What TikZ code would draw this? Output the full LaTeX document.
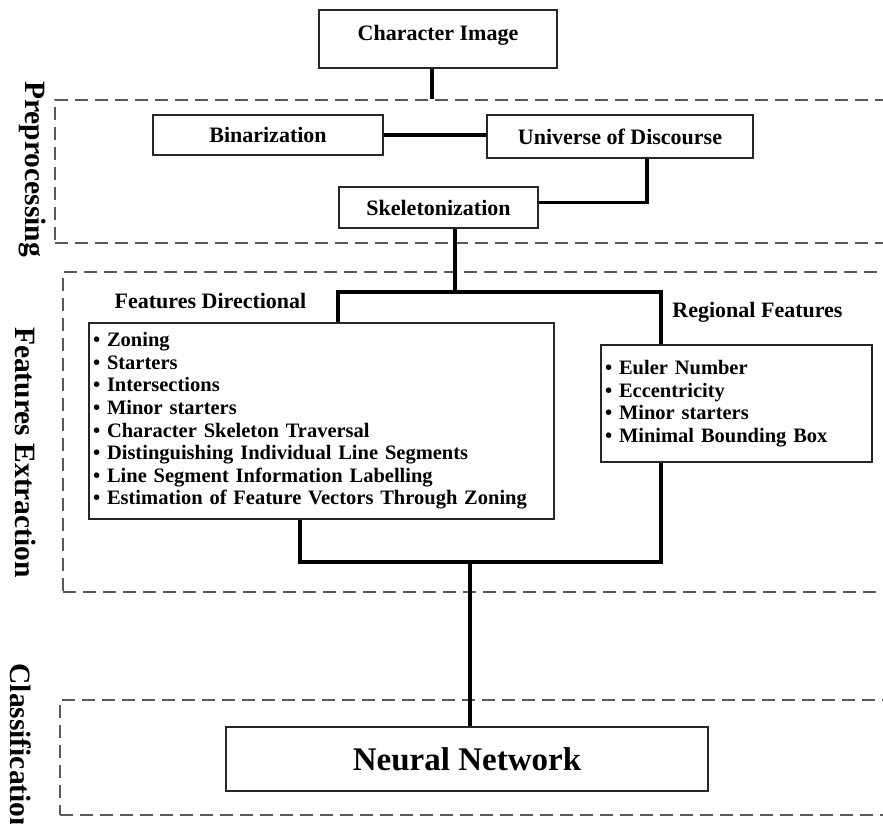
\documentclass[tikz,border=0pt]{standalone}
\usepackage{fontspec}
\setmainfont{Liberation Serif}
\usepackage{tikz}
\usetikzlibrary{positioning,calc}
\tikzset{%
  every stage/.style={
    draw=black!85,
    line width=1.3pt,
    fill=white,
    inner sep=0pt,
    font=\fontsize{22}{26}\selectfont\bfseries
  },
  stage list/.style={
    align=left,
    inner xsep=4pt,
    font=\fontsize{20.5}{22.6}\selectfont\bfseries
  },
  phase frame/.style={
    draw=black!65,
    line width=1.2pt,
    dash pattern=on 13pt off 7pt,
    inner sep=0pt
  },
  phase label/.style={
    rotate=-90,
    font=\fontsize{29.5}{34}\selectfont\bfseries
  },
  link/.style={line width=3.8pt},
}

\begin{document}
\begin{tikzpicture}[x=1pt, y=-1pt]
    \useasboundingbox (0,0) rectangle (883,823);
    \clip (0,0) rectangle (883,823);

    % dashed phase frames (open on the right)
    \node [phase frame, minimum width=845pt, minimum height=143pt] (frame-prep)  at (477.5,171.5) {};
    \node [phase frame, minimum width=837pt, minimum height=320pt] (frame-feat)  at (481.5,432) {};
    \node [phase frame, minimum width=840pt, minimum height=115pt] (frame-class) at (480,757.5) {};

    \node [phase label, anchor=base] (phase-1) at (25,169) {Preprocessing};
    \node [phase label, anchor=base] (phase-2) at (15,452.5) {Features Extraction};
    \node [phase label, anchor=base west] (phase-3) at (10,660) {Classification};

    % stages
    \node [every stage/.try, minimum width=238pt, minimum height=58pt,
           label={[anchor=north, yshift=-12pt, font=\fontsize{22}{26}\selectfont\bfseries]north:Character Image}]
           (charimg) at (438,39) {};
    \node [every stage/.try, minimum width=230pt, minimum height=40pt] (prep-bin)  at (268,135) {Binarization};
    \node [every stage/.try, minimum width=266pt, minimum height=43pt] (prep-uod)  at (620,136.5) {Universe of Discourse};
    \node [every stage/.try, minimum width=199pt, minimum height=41pt] (prep-skel) at (438.5,207.5) {Skeletonization};

    \node [every stage/.try, font=\fontsize{22}{26}\selectfont\bfseries, draw=none, fill=none] (feat-dir-title) at (210.5,301) {Features Directional};
    \node [every stage/.try, font=\fontsize{22}{26}\selectfont\bfseries, draw=none, fill=none] (feat-reg-title) at (757.5,312) {Regional Features};

    \node [every stage/.try, stage list, text width=457pt, minimum height=196pt] (feat-dir) at (321.5,421) {%
        \textbullet\ Zoning\\
        \textbullet\ Starters\\
        \textbullet\ Intersections\\
        \textbullet\ Minor starters\\
        \textbullet\ Character Skeleton Traversal\\
        \textbullet\ Distinguishing Individual Line Segments\\
        \textbullet\ Line Segment Information Labelling\\
        \textbullet\ Estimation of Feature Vectors Through Zoning};
    \node [every stage/.try, stage list, text width=263pt, minimum height=117pt] (feat-reg) at (736.5,403.5) {%
        \textbullet\ Euler Number\\
        \textbullet\ Eccentricity\\
        \textbullet\ Minor starters\\
        \textbullet\ Minimal Bounding Box};

    \node [every stage/.try, minimum width=482pt, minimum height=64pt,
           font=\fontsize{33}{38}\selectfont\bfseries] (class-nn) at (467,759) {Neural Network};

    % connectors
    \coordinate (split) at (455,292);
    \coordinate (dir-in) at (338,292);
    \coordinate (reg-in) at (661,292);
    \coordinate (dir-out) at (300,562);
    \coordinate (reg-out) at (661,562);
    \coordinate (merge) at (470,562);

    \draw [link] ([xshift=-6pt]charimg.south) -- ([xshift=-6pt]charimg.south |- frame-prep.north);
    \draw [link] (prep-bin.east) -- (prep-bin.east -| prep-uod.west);
    \draw [link] ([xshift=27pt]prep-uod.south) |- ([yshift=5pt]prep-skel.east);
    \draw [link] (prep-skel.south -| split) -- (split);
    \draw [link] (feat-dir.north -| dir-in) -- (dir-in) -- (reg-in) -- (feat-reg.north -| reg-in);
    \draw [link] (feat-reg.south -| reg-out) -- (reg-out) -- (dir-out) -- (feat-dir.south -| dir-out);
    \draw [link] (merge) -- (class-nn.north -| merge);
\end{tikzpicture}
\end{document}
